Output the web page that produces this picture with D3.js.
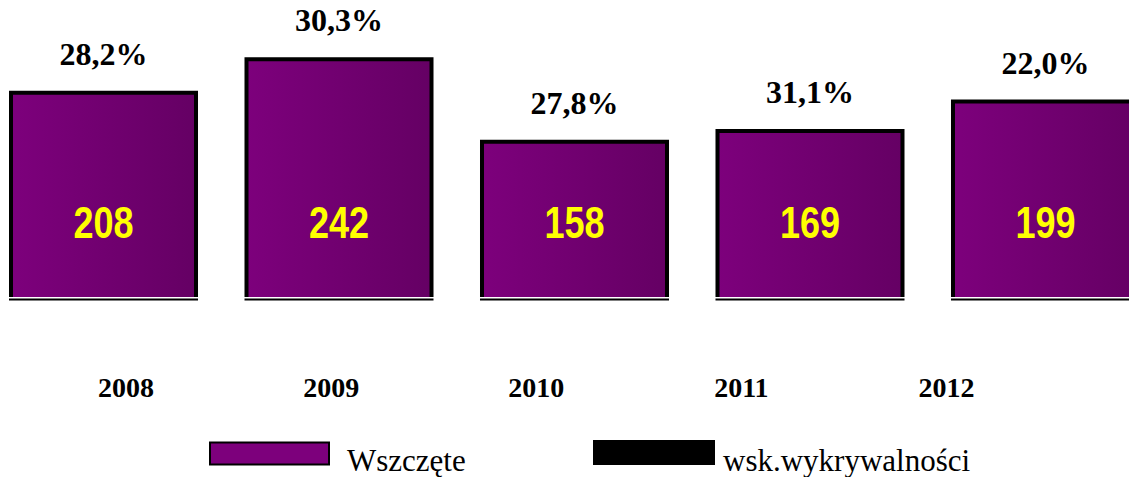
<!DOCTYPE html>
<meta charset="utf-8">
<script src="https://d3js.org/d3.v7.min.js"></script>
<html>
<head>
  <style>
    body { margin: 0; background: #fff; }
    svg { display: block; }
  </style>
</head>
<body>
  <div id="my_dataviz"></div>
</body>
</html>

<script>
  // data
  var years = ["2008", "2009", "2010", "2011", "2012"];
  var wszczete = [208, 242, 158, 169, 199];
  var wskWykrywalnosci = [28.2, 30.3, 27.8, 31.1, 22.0];
  var legendLabels = ["Wszczęte", "wsk.wykrywalności"];

  var width = 1129, height = 477;

  var svg = d3.select("#my_dataviz")
    .append("svg")
      .attr("width", width)
      .attr("height", height);

  // horizontal gradient of the bars
  var grad = svg.append("defs").append("linearGradient")
      .attr("id", "barGrad")
      .attr("x1", "0%").attr("x2", "100%")
      .attr("y1", "0%").attr("y2", "0%");
  grad.append("stop").attr("offset", "0%").attr("stop-color", "#7d007c");
  grad.append("stop").attr("offset", "100%").attr("stop-color", "#650064");

  // bars scale (last bar runs off the right edge)
  var x = d3.scaleBand()
    .domain(years)
    .range([11, 1138])
    .paddingInner(0.2144)
    .paddingOuter(0);

  var y = d3.scaleLinear()
    .domain([0, 250])
    .range([297, 51.5]);

  // year labels sit on their own, narrower spacing
  var xLabels = d3.scalePoint()
    .domain(years)
    .range([125.5, 946]);

  var bars = svg.selectAll(".bar")
    .data(years)
    .enter()
    .append("g")
      .attr("class", "bar");

  bars.append("path")
    .attr("d", function(d, i) {
      var x0 = x(d), x1 = x(d) + x.bandwidth();
      return "M" + x0 + "," + y(0) + "V" + y(wszczete[i]) + "H" + x1 + "V" + y(0);
    })
    .style("fill", "url(#barGrad)")
    .style("stroke", "#000")
    .style("stroke-width", 4);

  // thin base line under each bar
  bars.append("line")
    .attr("x1", function(d) { return x(d) - 2; })
    .attr("x2", function(d) { return x(d) + x.bandwidth() + 2; })
    .attr("y1", y(0) + 2.5)
    .attr("y2", y(0) + 2.5)
    .style("stroke", "#000")
    .style("stroke-width", 2);

  // values inside bars (condensed look)
  bars.append("text")
    .attr("transform", function(d) {
      return "translate(" + (x(d) + x.bandwidth() / 2) + "," + (y(0) - 59) + ") scale(0.8,1)";
    })
    .attr("text-anchor", "middle")
    .style("font-family", "'Liberation Sans', Arial, sans-serif")
    .style("font-weight", "bold")
    .style("font-size", "45px")
    .style("fill", "#ffff00")
    .text(function(d, i) { return wszczete[i]; });

  // percentage labels above bars
  bars.append("text")
    .attr("x", function(d) { return x(d) + x.bandwidth() / 2; })
    .attr("y", function(d, i) { return y(wszczete[i]) - 28; })
    .attr("text-anchor", "middle")
    .style("font-family", "'Liberation Serif', 'Times New Roman', serif")
    .style("font-weight", "bold")
    .style("font-size", "32px")
    .style("fill", "#000")
    .text(function(d, i) { return wskWykrywalnosci[i].toFixed(1).replace(".", ",") + "%"; });

  // year axis
  svg.append("g")
    .attr("transform", "translate(0,377)")
    .call(d3.axisBottom(xLabels).tickSize(0).tickPadding(0))
    .call(function(g) { g.select(".domain").remove(); })
    .selectAll("text")
      .style("font-family", "'Liberation Serif', 'Times New Roman', serif")
      .style("font-weight", "bold")
      .style("font-size", "28px")
      .style("fill", "#000");

  // legend
  var legend = svg.append("g");
  legend.append("rect")
    .attr("x", 210).attr("y", 442.5)
    .attr("width", 119).attr("height", 22)
    .style("fill", "#7d007c")
    .style("stroke", "#000")
    .style("stroke-width", 2);
  legend.append("text")
    .attr("x", 347).attr("y", 471)
    .style("font-family", "'Liberation Serif', 'Times New Roman', serif")
    .style("font-size", "31px")
    .style("fill", "#000")
    .text(legendLabels[0]);

  legend.append("rect")
    .attr("x", 593).attr("y", 440)
    .attr("width", 122).attr("height", 25)
    .style("fill", "#000");
  legend.append("text")
    .attr("x", 723).attr("y", 471)
    .style("font-family", "'Liberation Serif', 'Times New Roman', serif")
    .style("font-size", "31px")
    .style("fill", "#000")
    .text(legendLabels[1]);
</script>
